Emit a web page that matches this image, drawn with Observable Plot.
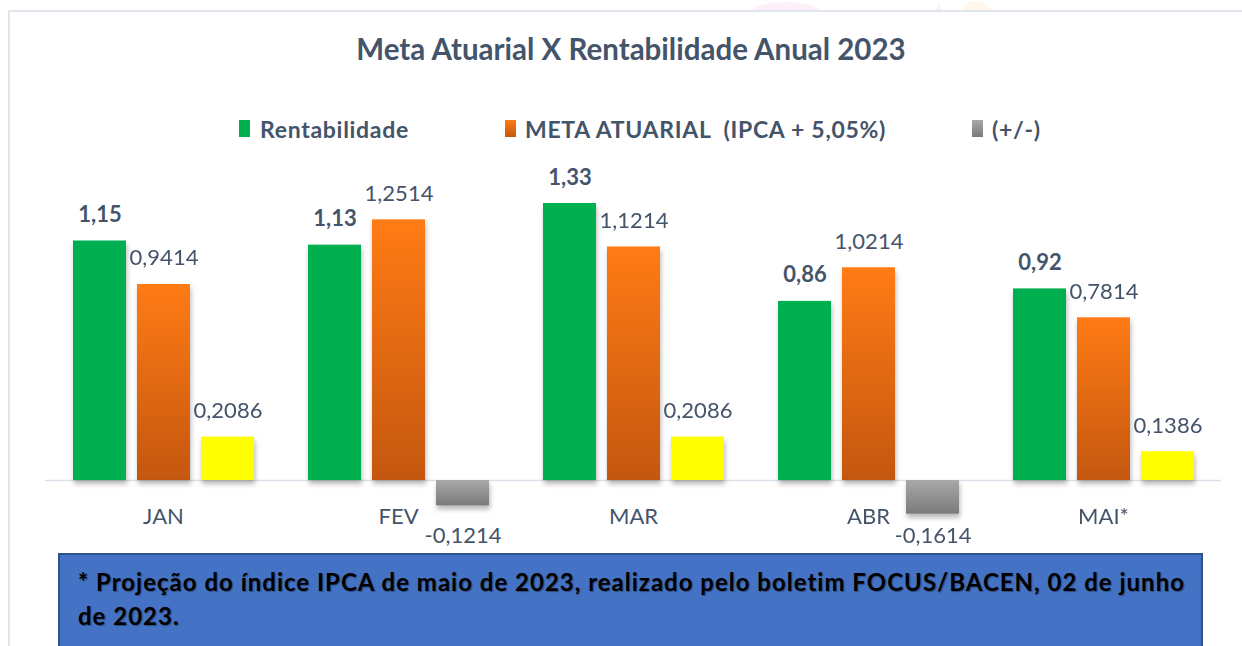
<!DOCTYPE html>
<html>
<head>
<meta charset="utf-8">
<script src="https://cdn.jsdelivr.net/npm/d3@7"></script>
<script src="https://cdn.jsdelivr.net/npm/@observablehq/plot@0.6"></script>
<style>
  html, body { margin: 0; padding: 0; background: #fff; }
  body { width: 1242px; height: 646px; position: relative; overflow: hidden; font-family: Lato, "Open Sans", sans-serif; }
  .panel { position: absolute; left: 8px; top: 10px; width: 1250px; height: 660px; border-left: 2px solid #E1E6EE; border-top: 2px solid #E1E6EE; background: #fff; }
  .blob1 { position: absolute; left: 750px; top: 2px; width: 72px; height: 24px; border-radius: 50%; background: #FEF0F8; }
  .blob2 { position: absolute; left: 962px; top: 1px; width: 30px; height: 24px; border-radius: 50% 60% 0 0; background: #FFF7EA; }
  .blob3 { position: absolute; left: 934px; top: 3px; width: 0; height: 0; border-left: 5px solid transparent; border-right: 5px solid transparent; border-bottom: 10px solid #F8F3FB; }
  .title { position: absolute; left: 0; width: 1262px; top: 31px; text-align: center; font-weight: 700; font-size: 29.5px; color: #44546A; line-height: 36px; }
  .leg { position: absolute; top: 115px; font-weight: 700; font-size: 23px; color: #44546A; line-height: 28px; letter-spacing: 0.7px; }
  .sw { position: absolute; top: 120px; width: 11px; height: 17px; }
  #chart { position: absolute; left: 0; top: 150px; }
  .note { position: absolute; left: 58px; top: 553px; width: 1141px; height: 110px; background: #4472C4; border: 2px solid #2F528F; }
  .note p { margin: 0; position: absolute; left: 18px; top: 10px; font-weight: 700; font-size: 24px; line-height: 34px; color: #000; text-shadow: 1px 1px 1px rgba(0,0,0,0.35); letter-spacing: 1px; white-space: nowrap; }
</style>
</head>
<body>
<div class="blob1"></div>
<div class="blob2"></div>
<div class="blob3"></div>
<div class="panel"></div>
<div class="title">Meta Atuarial X Rentabilidade Anual 2023</div>
<div class="sw" style="left:239px;background:#00B050"></div>
<div class="leg" style="left:260px">Rentabilidade</div>
<div class="sw" style="left:505px;background:linear-gradient(#FF7B15,#C4570F)"></div>
<div class="leg" style="left:525px">META ATUARIAL&nbsp; (IPCA + 5,05%)</div>
<div class="sw" style="left:972px;background:linear-gradient(#A8A8A8,#7A7A7A)"></div>
<div class="leg" style="left:992px">(+/-)</div>
<div id="chart"></div>
<div class="note"><p>* Projeção do índice IPCA de maio de 2023, realizado pelo boletim FOCUS/BACEN, 02 de junho<br>de 2023.</p></div>
<script>
const months = ["JAN", "FEV", "MAR", "ABR", "MAI*"];
const series = ["Rentabilidade", "META ATUARIAL  (IPCA + 5,05%)", "(+/-)"];
const rentabilidade = [1.15, 1.13, 1.33, 0.86, 0.92];
const metaAtuarial = [0.9414, 1.2514, 1.1214, 1.0214, 0.7814];
const diferenca = [0.2086, -0.1214, 0.2086, -0.1614, 0.1386];

const rows = [];
months.forEach((m, i) => {
  rows.push({month: m, series: series[0], value: rentabilidade[i]});
  rows.push({month: m, series: series[1], value: metaAtuarial[i]});
  rows.push({month: m, series: series[2], value: diferenca[i]});
});
const fmt2 = v => d3.format(".2f")(v).replace(".", ",").replace("\u2212", "-");
const fmt4 = v => d3.format(".4f")(v).replace(".", ",").replace("\u2212", "-");
const ser = s => rows.filter(d => d.series === s);
const difPos = rows.filter(d => d.series === series[2] && d.value >= 0);
const difNeg = rows.filter(d => d.series === series[2] && d.value < 0);

const textColor = "#44546A";
const chart = Plot.plot({
  width: 1242,
  height: 400,
  marginLeft: 46,
  marginRight: 21,
  marginTop: 28,
  marginBottom: 53.3,
  style: {fontFamily: "Lato, 'Open Sans', sans-serif", color: textColor, background: "transparent"},
  fx: {domain: months, paddingInner: 0.225, paddingOuter: 0.1125, label: null},
  x: {domain: series, paddingInner: 0.178, paddingOuter: 0, axis: null},
  y: {domain: [-0.08, 1.45], axis: null},
  marks: [
    Plot.ruleY([0], {stroke: "#D9E1EA", strokeWidth: 1.5, insetLeft: -27, insetRight: -27}),
    Plot.barY(ser(series[0]), {fx: "month", x: "series", y: "value", fill: "#00B050"}),
    Plot.barY(ser(series[1]), {fx: "month", x: "series", y: "value", fill: "url(#gOrange)"}),
    Plot.barY(difPos, {fx: "month", x: "series", y: "value", fill: "#FFFF00"}),
    Plot.barY(difNeg, {fx: "month", x: "series", y: "value", fill: "url(#gGray)"}),
    Plot.text(ser(series[0]), {fx: "month", x: "series", y: "value", text: d => fmt2(d.value), dy: -26, fontSize: 22, fontWeight: 700, fill: textColor}),
    Plot.text(ser(series[1]), {fx: "month", x: "series", y: "value", text: d => fmt4(d.value), dy: -26, fontSize: 22, fill: textColor}),
    Plot.text(difPos, {fx: "month", x: "series", y: "value", text: d => fmt4(d.value), dy: -26, fontSize: 22, fill: textColor}),
    Plot.text(difNeg, {fx: "month", x: "series", frameAnchor: "bottom", text: d => fmt4(d.value), dy: 46, fontSize: 22, fill: textColor}),
    Plot.axisFx({anchor: "bottom", tickSize: 0, tickPadding: 11, fontSize: 22, label: null, fill: textColor})
  ]
});
document.getElementById("chart").appendChild(chart);

const svg = d3.select(chart);
const defs = svg.insert("defs", ":first-child");
const go = defs.append("linearGradient").attr("id", "gOrange").attr("x1", 0).attr("y1", 0).attr("x2", 0).attr("y2", 1);
go.append("stop").attr("offset", "0%").attr("stop-color", "#FF7B15");
go.append("stop").attr("offset", "100%").attr("stop-color", "#C4570F");
const gg = defs.append("linearGradient").attr("id", "gGray").attr("x1", 0).attr("y1", 0).attr("x2", 0).attr("y2", 1);
gg.append("stop").attr("offset", "0%").attr("stop-color", "#A8A8A8");
gg.append("stop").attr("offset", "100%").attr("stop-color", "#7A7A7A");
svg.selectAll('g[aria-label="bar"]').style("filter", "drop-shadow(1px 4px 2.5px rgba(0,0,0,0.28))");
</script>
</body>
</html>
